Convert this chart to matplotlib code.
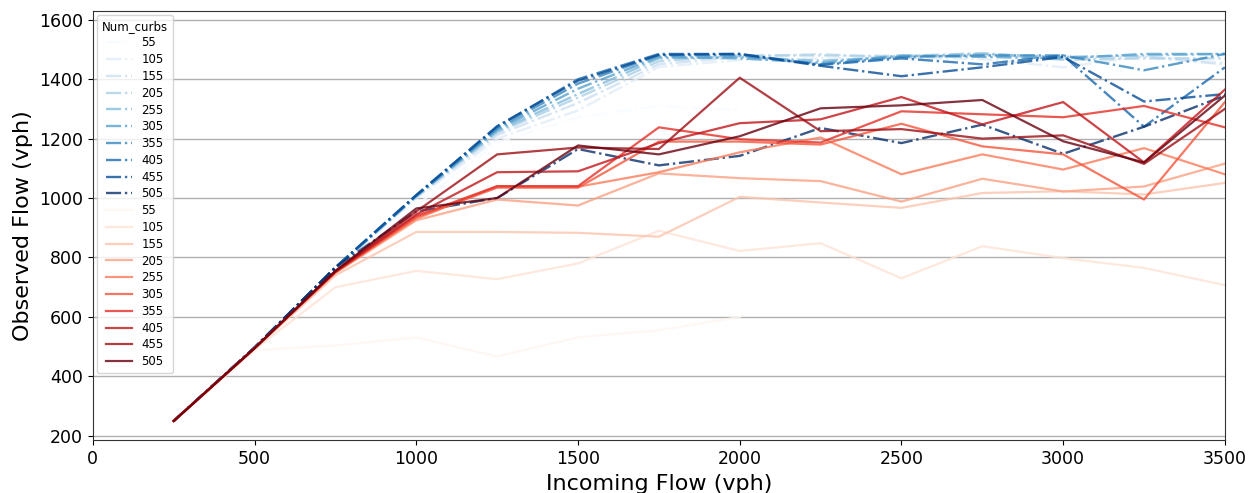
import numpy as np
import matplotlib
matplotlib.use("Agg")
import matplotlib.pyplot as plt

nan = np.nan

incoming = [250, 500, 750, 1000, 1250, 1500, 1750, 2000, 2250, 2500, 2750, 3000, 3250, 3500]
num_curbs = [55, 105, 155, 205, 255, 305, 355, 405, 455, 505]

# scenario A (dash-dot, blues)
a_55 = [250, 495, 750, 975, 1187, 1272, 1310, 1295, nan, nan, nan, nan, nan, nan]
a_105 = [250, 495, 760, 1000, 1200, 1295, 1441, 1465, 1470, 1472, 1468, 1440, 1478, 1455]
a_155 = [250, 497, 762, 1003, 1212, 1320, 1450, 1475, 1485, 1470, 1482, 1470, 1475, 1450]
a_205 = [250, 497, 763, 1005, 1220, 1338, 1460, 1480, 1480, 1478, 1488, 1465, 1470, 1470]
a_255 = [250, 497, 764, 1006, 1225, 1350, 1470, 1475, 1462, 1475, 1485, 1475, 1480, 1485]
a_305 = [250, 497, 765, 1007, 1230, 1368, 1475, 1470, 1455, 1480, 1475, 1470, 1485, 1485]
a_355 = [250, 497, 766, 1008, 1235, 1385, 1480, 1480, 1450, 1475, 1480, 1480, 1430, 1485]
a_405 = [250, 497, 767, 1010, 1240, 1400, 1485, 1485, 1448, 1470, 1450, 1480, 1240, 1440]
a_455 = [250, 497, 767, 1010, 1242, 1395, 1482, 1485, 1445, 1410, 1440, 1475, 1325, 1350]
a_505 = [250, 497, 767, 955, 1000, 1165, 1110, 1142, 1236, 1185, 1247, 1149, 1240, 1345]

# scenario B (solid, reds)
b_55 = [250, 488, 504, 531, 467, 531, 555, 600, nan, nan, nan, nan, nan, nan]
b_105 = [250, 490, 700, 755, 727, 780, 890, 822, 848, 730, 838, 798, 765, 707]
b_155 = [250, 492, 740, 886, 886, 883, 870, 1004, 985, 967, 1017, 1023, 1012, 1051]
b_205 = [250, 495, 748, 925, 995, 975, 1083, 1067, 1057, 988, 1065, 1022, 1039, 1116]
b_255 = [250, 495, 750, 930, 1040, 1038, 1087, 1154, 1204, 1080, 1147, 1096, 1168, 1080]
b_305 = [250, 495, 750, 935, 1035, 1035, 1190, 1190, 1180, 1250, 1174, 1147, 995, 1323]
b_355 = [250, 495, 752, 940, 1040, 1040, 1238, 1198, 1187, 1292, 1282, 1272, 1310, 1238]
b_405 = [250, 495, 752, 945, 1087, 1090, 1185, 1252, 1265, 1340, 1248, 1323, 1120, 1365]
b_455 = [250, 495, 755, 955, 1147, 1170, 1165, 1405, 1225, 1232, 1200, 1211, 1115, 1300]
b_505 = [250, 495, 755, 965, 1000, 1177, 1147, 1208, 1302, 1312, 1330, 1191, 1120, 1345]

series_a = [a_55, a_105, a_155, a_205, a_255, a_305, a_355, a_405, a_455, a_505]
series_b = [b_55, b_105, b_155, b_205, b_255, b_305, b_355, b_405, b_455, b_505]

fig, ax = plt.subplots(figsize=(12.55, 4.93), dpi=100)
fig.subplots_adjust(left=0.074, right=0.976, top=0.978, bottom=0.107)

norm = plt.Normalize(min(num_curbs), max(num_curbs))
blues = plt.get_cmap("Blues")
reds = plt.get_cmap("Reds")

for n, y in zip(num_curbs, series_a):
    ax.plot(incoming, y, color=blues(norm(n)), linestyle="-.", lw=1.7, alpha=0.8, label=str(n))
for n, y in zip(num_curbs, series_b):
    ax.plot(incoming, y, color=reds(norm(n)), linestyle="-", lw=1.6, alpha=0.8, label=str(n))

ax.set_xlim(0, 3500)
ax.set_ylim(185, 1630)
ax.set_yticks(np.arange(200, 1601, 200))
ax.yaxis.grid(True, color="#b0b0b0", lw=1)
ax.set_axisbelow(True)
ax.tick_params(labelsize=12.5)
for s in ax.spines.values():
    s.set_color("#333333")

ax.set_xlabel("Incoming Flow (vph)", fontsize=16)
ax.set_ylabel("Observed Flow (vph)", fontsize=16)

ax.legend(title="Num_curbs", loc="upper left", fontsize=8.5, title_fontsize=8.5,
          handlelength=2.2, labelspacing=0.32, borderaxespad=0.35)

plt.savefig("out.png", dpi=100)
